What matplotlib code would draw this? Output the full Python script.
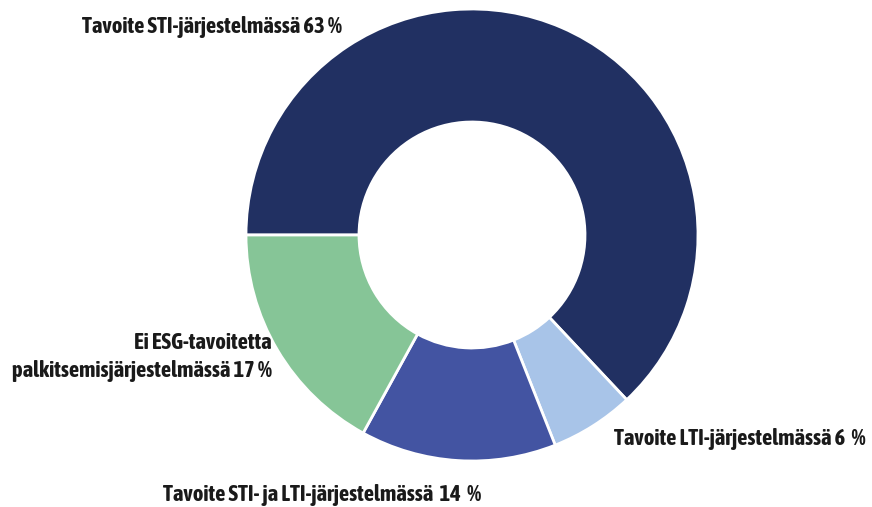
import matplotlib
matplotlib.use("Agg")
import matplotlib.pyplot as plt
from matplotlib import font_manager

labels = ["Tavoite STI-järjestelmässä 63 %",
          "Tavoite LTI-järjestelmässä 6  %",
          "Tavoite STI- ja LTI-järjestelmässä  14  %",
          "Ei ESG-tavoitetta\npalkitsemisjärjestelmässä 17 %"]
values = [63, 6, 14, 17]
colors = ["#213062", "#A8C4E8", "#4354A2", "#86C597"]

names = {f.name for f in font_manager.fontManager.ttflist}
if "Asap Condensed" in names:
    fam, fs = "Asap Condensed", 16.3
elif "Barlow Condensed" in names:
    fam, fs = "Barlow Condensed", 17
else:
    fam, fs = "DejaVu Sans", 11

W, H = 872, 507
fig = plt.figure(figsize=(W / 100, H / 100), dpi=100)
cx, cy, r = 472, 235, 226
ax = fig.add_axes([(cx - r) / W, (H - cy - r) / H, 2 * r / W, 2 * r / H])
ax.pie(values, colors=colors, startangle=180, counterclock=False, radius=1,
       wedgeprops=dict(width=0.5, edgecolor="white", linewidth=2))
ax.set_xlim(-1, 1)
ax.set_ylim(-1, 1)
ax.set_aspect("equal")
ax.axis("off")

tk = dict(fontfamily=fam, fontweight="bold", fontsize=fs, color="#1a1a1a", clip_on=False)
ax.text(-1.15, 0.92, labels[0], ha="center", va="center", **tk)
ax.text(0.628, -0.903, labels[1], ha="left", va="center", **tk)
ax.text(-1.367, -1.15, labels[2], ha="left", va="center", **tk)
ax.text(-0.885, -0.54, labels[3], ha="right", va="center", multialignment="right",
        linespacing=1.38, **tk)

fig.savefig("out.png", dpi=100)
